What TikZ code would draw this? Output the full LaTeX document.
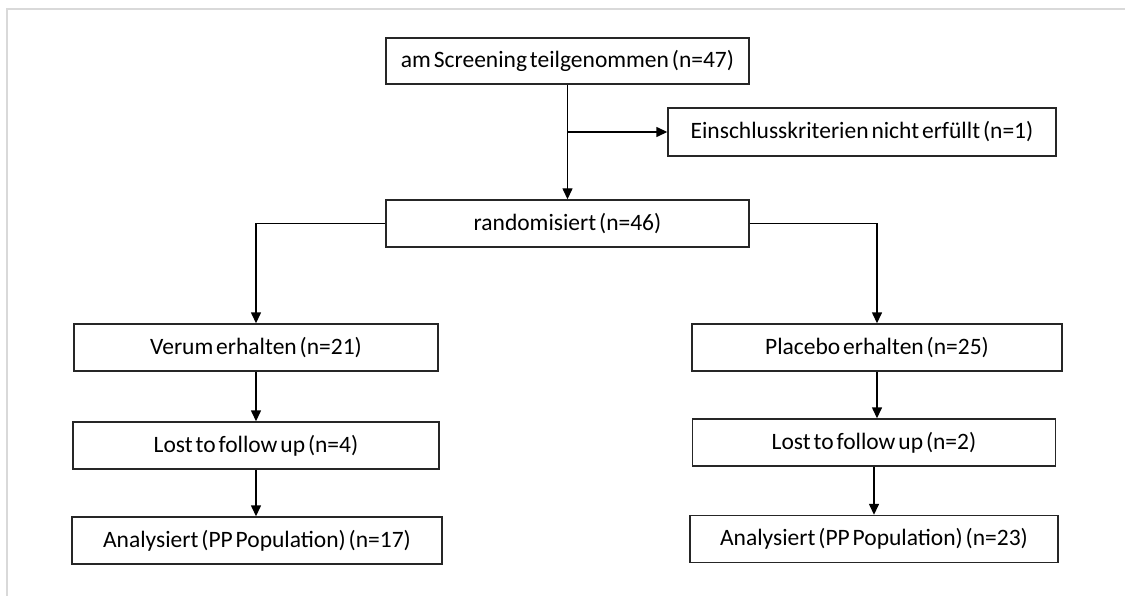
\documentclass[tikz,border=0pt]{standalone}
\usepackage{fontspec}
\setmainfont{Carlito}[WordSpace=0.55]
\usetikzlibrary{arrows.meta}
\definecolor{framegray}{HTML}{D9D9D9}
\tikzset{
  flowbox/.style={draw=black!85, line width=1.4pt, minimum height=47pt, inner sep=0pt,
    font=\fontsize{23.5}{27}\selectfont, anchor=center},
  arr/.style={line width=1.4pt, -{Triangle[length=11pt,width=10pt]}},
}
\begin{document}
\begin{tikzpicture}[x=1pt,y=-1pt]
\useasboundingbox (0,0) rectangle (1125,596);
\draw[framegray, line width=2pt] (7,596) -- (7,9) -- (1125,9);
\node[flowbox, minimum width=363pt, minimum height=46pt] (scr) at (567.5,61) {am Screening teilgenommen (n=47)};
\node[flowbox, minimum width=388pt, minimum height=48pt] (ein) at (862,132) {Einschlusskriterien nicht erfüllt (n=1)};
\node[flowbox, minimum width=363pt] (rand) at (567.5,223.5) {randomisiert (n=46)};
\node[flowbox, minimum width=364pt] (ver) at (256,347.5) {Verum erhalten (n=21)};
\node[flowbox, minimum width=370pt] (pla) at (877,347.5) {Placebo erhalten (n=25)};
\node[flowbox, minimum width=366pt] (lf4) at (256,445.5) {Lost to follow up (n=4)};
\node[flowbox, minimum width=363pt] (lf2) at (874,442.5) {Lost to follow up (n=2)};
\node[flowbox, minimum width=370pt] (an17) at (257,540.5) {Analysiert (PP Population) (n=17)};
\node[flowbox, minimum width=368pt] (an23) at (874,539) {Analysiert (PP Population) (n=23)};
\draw[arr] (scr) -- (rand);
\draw[arr] (scr.south |- ein.west) -- (ein.west);
\draw[arr] (rand.west) -| (ver.north);
\draw[arr] (rand.east) -| (pla.north);
\draw[arr] (ver.south) -- (ver.south |- lf4.north);
\draw[arr] (lf4.south) -- (lf4.south |- an17.north);
\draw[arr] (pla.south) -- (pla.south |- lf2.north);
\draw[arr] (lf2.south) -- (lf2.south |- an23.north);
\end{tikzpicture}
\end{document}
